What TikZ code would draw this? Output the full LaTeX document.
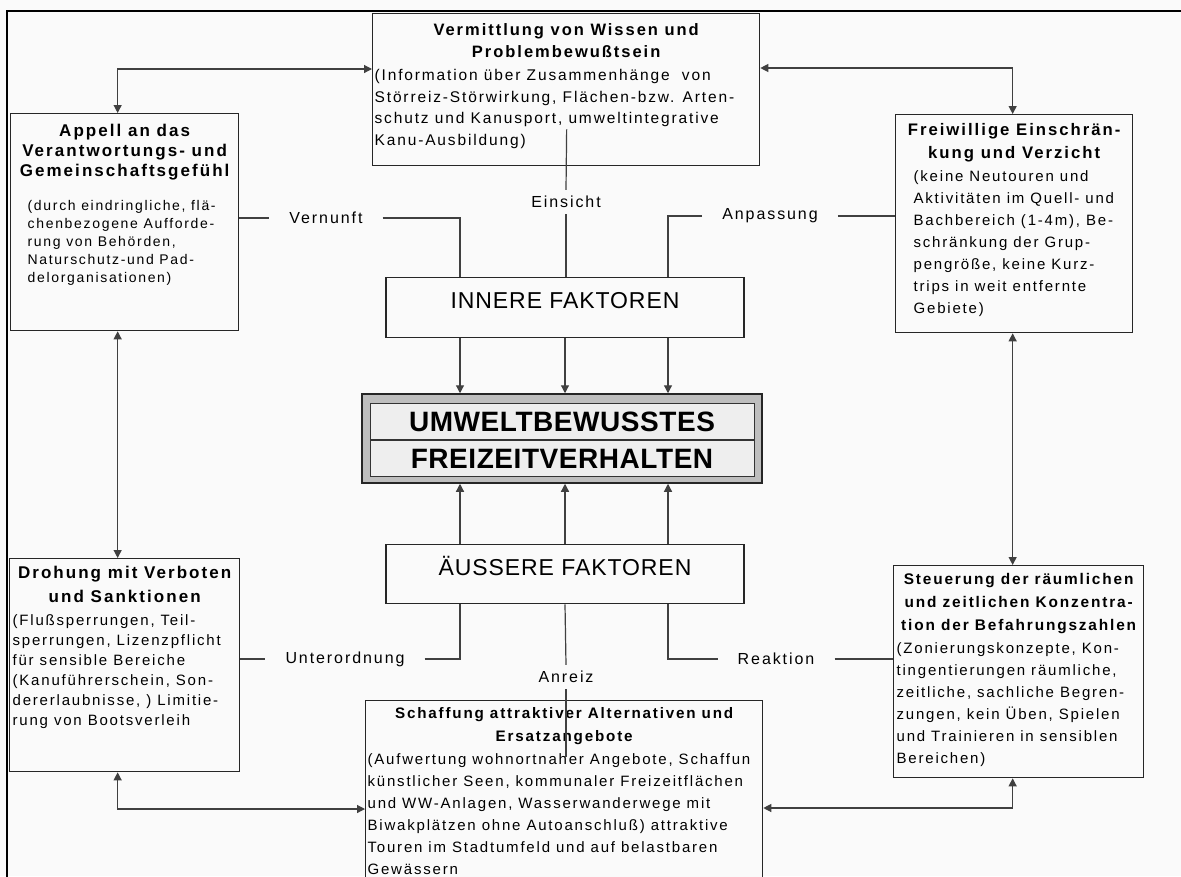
\documentclass[tikz,border=0pt]{standalone}
\usepackage{fontspec}
\setmainfont{Liberation Sans}[LetterSpace=12]
\usetikzlibrary{arrows.meta,positioning,calc}

\definecolor{bgc}{RGB}{250,250,250}
\definecolor{bandc}{RGB}{190,190,190}
\definecolor{cellc}{RGB}{238,238,238}

% title and body settings inside the boxes
\newcommand{\ttl}[2]{\fontsize{#1}{#2}\selectfont\bfseries\centering\strut}
\newcommand{\bdy}[3]{\fontsize{#1}{#2}\selectfont\mdseries\raggedright\leftskip=#3pt\rightskip=-40pt plus 1fil\relax}
\newcommand{\boxcontent}[6]{\parbox[t][#2pt][t]{#1pt}{\vspace*{#3pt}{#4\par}\vspace{#5pt}{#6\par}}}

\begin{document}
\begin{tikzpicture}[x=1pt,y=-1pt,
    infobox/.style={draw=black!85,line width=1.3pt,fill=bgc,inner sep=0pt,anchor=north west},
    factor/.style={draw=black!85,line width=1.3pt,fill=bgc,minimum width=358pt,inner xsep=0pt,inner ysep=0pt,anchor=north,
      font=\fontsize{23}{26}\selectfont\addfontfeature{LetterSpace=4}},
    cell/.style={draw=black!80,line width=1pt,fill=cellc,minimum width=384pt,minimum height=36pt,inner sep=0pt,
      font=\fontsize{28}{30}\selectfont\bfseries\addfontfeature{LetterSpace=2}},
    lbl/.style={inner xsep=20pt,inner ysep=6pt,font=\fontsize{16}{19}\selectfont},
    link/.style={draw=black!75,line width=1.2pt},
    dbl/.style={link,{Triangle[length=8pt,width=8pt]}-{Triangle[length=8pt,width=8pt]}},
    arr/.style={link,-{Triangle[length=8pt,width=8pt]}}
  ]

  \useasboundingbox (0,0) rectangle (1181,876);
  \fill[bgc] (0,0) rectangle (1181,876);
  \draw[line width=2.5pt] (7,11) rectangle (1200,900);

  % measures
  \node[infobox] (verm) at (372,13) {\boxcontent{387}{152}{6.6}{\ttl{16.5}{22}Vermittlung von Wissen und\\Problembewußtsein}{1}{\bdy{15.5}{21.7}{2}(Information über Zusammenhänge\ \ von\\Störreiz-Störwirkung, Flächen-bzw. Arten-\\schutz und Kanusport, umweltintegrative\\Kanu-Ausbildung)}};
  \node[infobox] (appell) at (10,113) {\boxcontent{228}{217}{9}{\ttl{17}{20}Appell an das\\Verantwortungs- und\\Gemeinschaftsgefühl}{16}{\bdy{14}{18}{17}(durch eindringliche, flä-\\chenbezogene Aufforde-\\rung von Behörden,\\Naturschutz-und Pad-\\delorganisationen)}};
  \node[infobox] (freiw) at (895,114) {\boxcontent{237}{218}{4.9}{\ttl{16.7}{23}Freiwillige Einschrän-\\kung und Verzicht}{1}{\bdy{15}{22}{18}(keine Neutouren und\\Aktivitäten im Quell- und\\Bachbereich (1-4m), Be-\\schränkung der Grup-\\pengröße, keine Kurz-\\trips in weit entfernte\\Gebiete)}};
  \node[infobox] (drohung) at (9,558) {\boxcontent{230}{213}{3.2}{\ttl{17}{24}Drohung mit Verboten\\und Sanktionen}{3}{\bdy{15}{20}{3}(Flußsperrungen, Teil-\\sperrungen, Lizenzpflicht\\für sensible Bereiche\\(Kanuführerschein, Son-\\dererlaubnisse, ) Limitie-\\rung von Bootsverleih}};
  \node[infobox] (steuer) at (893,565) {\boxcontent{250}{212}{2.9}{\ttl{15.4}{23}Steuerung der räumlichen\\und zeitlichen Konzentra-\\tion der Befahrungszahlen}{1}{\bdy{15}{22}{3}(Zonierungskonzepte, Kon-\\tingentierungen räumliche,\\zeitliche, sachliche Begren-\\zungen, kein Üben, Spielen\\und Trainieren in sensiblen\\Bereichen)}};
  \node[infobox] (schaff) at (365,700) {\boxcontent{397}{200}{1.9}{\ttl{15.2}{23}Schaffung attraktiver Alternativen und\\Ersatzangebote}{1}{\bdy{15}{22}{2}(Aufwertung wohnortnaher Angebote, Schaffun\\künstlicher Seen, kommunaler Freizeitflächen\\und WW-Anlagen, Wasserwanderwege mit\\Biwakplätzen ohne Autoanschluß) attraktive\\Touren im Stadtumfeld und auf belastbaren\\Gewässern}};

  % factors and goal
  \node[factor,text height=31pt,text depth=29pt] (innere) at (565,277) {INNERE FAKTOREN};
  \node[factor,text height=31pt,text depth=28pt] (aeussere) at (565,544) {ÄUSSERE FAKTOREN};
  \node[draw=black!85,line width=1.5pt,fill=bandc,minimum width=400pt,minimum height=89pt,inner sep=0pt] (umwelt) at (562,438.5) {};
  \node[cell,anchor=south] (umwelt1) at (562,440) {UMWELTBEWUSSTES};
  \node[cell,anchor=north] (umwelt2) at (562,440) {FREIZEITVERHALTEN};

  \foreach \dx in {-105,0,103} {
    \draw[arr] ($(innere.south)+(\dx,0)$) -- ($(innere.south |- umwelt.north)+(\dx,0)$);
    \draw[arr] ($(aeussere.north)+(\dx,0)$) -- ($(aeussere.north |- umwelt.south)+(\dx,0)$);
  }

  % labels on the links
  \node[lbl] (vernunft) at (326,218) {Vernunft};
  \node[lbl] (einsicht) at (566,202) {Einsicht};
  \node[lbl] (anpassung) at (770,216) {Anpassung};
  \node[lbl] (unterord) at (345,659) {Unterordnung};
  \node[lbl] (anreiz) at (566,677) {Anreiz};
  \node[lbl] (reaktion) at (776,659) {Reaktion};

  \draw[link] (appell.east |- vernunft) -- (vernunft.west);
  \draw[link] (vernunft.east) -| ($(innere.north)+(-105,0)$);
  \draw[link] ($(verm.south)+(0.5,-37)$) -- (einsicht.north);
  \draw[link] (einsicht.south) -- (einsicht.south |- innere.north);
  \draw[link] (anpassung.east) -- (freiw.west |- anpassung);
  \draw[link] (anpassung.west) -| ($(innere.north)+(103,0)$);
  \draw[link] (drohung.east |- unterord) -- (unterord.west);
  \draw[link] (unterord.east) -| ($(aeussere.south)+(-105,0)$);
  \draw[link] (aeussere.south) -- (anreiz.north);
  \draw[link] (anreiz.south) -- ($(anreiz.south |- schaff.north)+(0,57)$);
  \draw[link] (reaktion.east) -- (steuer.west |- reaktion);
  \draw[link] (reaktion.west) -| ($(aeussere.south)+(103,0)$);

  % outer links
  \draw[dbl] ($(verm.north west)+(0,56)$) -| ($(appell.north)+(-7,0)$);
  \draw[dbl] ($(verm.north east)+(0,55)$) -| ($(freiw.north)+(-1.5,0)$);
  \draw[dbl] ($(appell.south)+(-7,0)$) -- ($(drohung.north)+(-7,0)$);
  \draw[dbl] ($(freiw.south)+(-1.5,0)$) -- ($(freiw.south |- steuer.north)+(-1.5,0)$);
  \draw[dbl] ($(drohung.south)+(-7,0)$) |- ($(schaff.north west)+(0,109)$);
  \draw[dbl] ($(freiw.south |- steuer.south)+(-1.5,0)$) |- ($(schaff.north east)+(0,108)$);

\end{tikzpicture}
\end{document}
